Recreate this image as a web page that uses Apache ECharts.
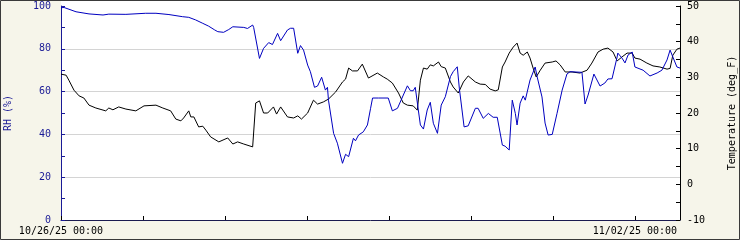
<!DOCTYPE html>
<html>
<head>
<meta charset="utf-8">
<script src="https://cdn.jsdelivr.net/npm/echarts@6/dist/echarts.min.js"></script>
<style>
html,body{margin:0;padding:0;background:#f6f5ea;}
#c{width:740px;height:240px;}
</style>
</head>
<body>
<div id="c"></div>
<script>
// Start of the time axis: 10/26/25 00:00; x values are hours since then
const startDate = [2025, 9, 26];
const axisEndHours = 181.2;
const dayTicks = 24;

// Relative humidity (%)
const rhHours = [0,0.9,4.4,8.2,12.3,14.0,19.0,24.8,27.8,31.6,35.6,37.4,39.4,41.5,43.2,45.0,45.9,47.6,49.1,50.3,53.5,54.6,56.1,56.4,58.1,59.3,60.8,61.9,63.4,64.3,66.3,67.2,68.1,69.3,70.1,71.0,72.2,73.0,74.2,75.1,76.3,77.4,78.0,78.3,79.8,80.9,82.4,83.3,84.2,85.6,86.2,87.1,88.5,89.7,90.6,91.2,92.9,95.8,97.0,98.5,101.4,102.3,103.1,103.7,104.6,105.2,106.1,107.2,108.1,109.0,110.2,111.3,112.5,114.0,114.8,116.0,116.6,118.0,119.2,121.3,122.1,123.6,125.1,126.5,127.7,129.2,130.0,131.2,132.1,133.0,133.5,134.4,135.3,135.9,137.3,138.8,139.4,140.8,141.7,142.6,143.8,145.2,146.7,148.1,149.0,152.5,153.4,154.3,156.0,157.8,159.2,160.1,161.3,162.8,163.0,164.2,165.1,166.0,167.2,168.0,170.4,172.4,174.5,175.9,177.4,178.3,179.1,180.3,181.2];
const rhValues = [99.2,99.3,97.3,96.3,95.8,96.2,96.1,96.6,96.6,96.0,95.0,94.7,93.5,91.9,90.6,88.8,88.0,87.7,89.0,90.3,90.0,89.5,91.1,90.0,75.5,80.2,82.9,82.0,87.2,83.8,88.8,89.6,89.6,77.9,81.5,79.4,72.4,69.3,62.0,62.6,66.7,60.7,62.0,56.0,40.5,35.9,26.5,30.7,29.6,38.2,37.0,39.7,41.2,44.4,52.0,57.0,57.0,57.0,51.0,52.2,62.7,60.4,60.4,62.0,51.4,44.4,42.5,51.4,55.0,45.2,40.5,53.7,57.6,67.0,69.3,71.6,61.6,43.5,44.0,52.2,52.2,47.5,49.8,48.0,48.0,35.0,34.5,32.7,56.0,49.8,44.4,54.6,58.0,56.0,65.4,71.5,66.8,57.5,45.3,39.7,40.0,49.8,60.7,68.2,69.3,69.0,54.2,58.4,68.2,62.6,64.0,65.9,66.0,76.2,78.0,75.7,73.4,77.1,78.5,71.5,70.0,67.3,68.7,70.0,74.8,79.4,76.2,71.5,71.0];

// Temperature (deg F)
const tempHours = [0,1.5,2.3,3.8,5.3,6.7,8.2,10.2,13.1,14.0,15.2,16.9,19.0,21.9,24.3,27.8,29.8,32.1,33.6,35.1,35.9,37.4,38.0,38.9,40.3,41.5,42.4,43.8,46.2,48.8,50.3,51.7,53.5,56.1,57.0,58.1,59.3,60.5,62.2,63.1,64.3,66.3,68.1,69.3,70.4,72.2,73.9,75.1,76.8,78.3,80.4,82.4,83.3,84.2,85.3,86.8,88.2,90.0,92.6,94.4,95.5,97.0,98.8,100.2,101.4,103.1,104.3,105.2,106.1,107.2,108.1,109.0,110.5,111.3,112.5,114.0,114.8,116.3,117.8,119.2,121.3,122.7,124.2,125.6,127.1,128.0,129.2,130.0,131.2,132.4,133.5,134.4,135.3,136.5,137.3,138.2,139.1,140.3,141.7,143.8,144.9,146.1,147.6,149.6,151.9,154.0,155.4,157.2,158.7,160.1,161.6,162.8,164.2,165.7,167.2,168.0,169.5,171.5,173.3,175.3,177.4,178.3,179.1,180.3,181.2];
const tempValues = [30.9,30.6,29.2,26.4,24.8,24.2,22.2,21.4,20.6,21.4,20.9,21.7,21.1,20.6,22.0,22.2,21.4,20.6,18.3,17.8,18.6,20.6,18.9,18.9,16.1,16.3,15.2,13.3,11.9,13.0,11.3,11.9,11.3,10.5,22.8,23.4,20.0,20.0,21.7,19.7,21.7,18.9,18.6,19.2,18.3,20.0,23.6,22.5,23.1,23.9,25.9,28.7,29.5,32.6,31.8,31.8,33.7,29.8,31.2,30.1,29.5,28.4,25.6,22.8,22.2,22.0,20.8,29.2,32.6,32.3,33.5,33.2,34.3,33.0,32.6,28.7,27.3,25.6,28.7,30.4,28.7,28.1,28.0,26.7,26.2,26.5,32.9,34.3,36.8,38.5,39.6,36.8,36.2,37.1,35.4,32.6,30.1,32.0,34.0,34.3,34.6,33.5,31.5,31.5,31.2,32.0,34.0,37.1,37.9,38.2,37.1,34.6,35.7,36.8,36.8,35.4,35.1,34.0,33.2,32.9,32.3,32.5,36.2,37.9,38.2];

const rhLabels = {name: 'RH (%)', min: 0, max: 100, step: 20};
const tempLabels = {name: 'Temperature (deg_F)', min: -10, max: 50, step: 10};

const FONT = 'DejaVu Sans Mono';
const NAVY = '#1a1a96';

function pad(n){return (n<10?'0':'')+n;}
function fmtTime(h){
  if (Math.abs(h % 168) > 1e-6) return '';
  const d = new Date(startDate[0], startDate[1], startDate[2] + h/24);
  return pad(d.getMonth()+1)+'/'+pad(d.getDate())+'/'+pad(d.getFullYear()%100)+' '+pad(d.getHours())+':'+pad(d.getMinutes());
}

const rhData = rhHours.map((h,i)=>[h, rhValues[i]]);
const tempData = tempHours.map((h,i)=>[h, tempValues[i]]);

const chart = echarts.init(document.getElementById('c'), null, {renderer:'canvas'});
chart.setOption({
  animation: false,
  backgroundColor: '#f6f5ea',
  graphic: [
    {type:'rect', z:-10, silent:true, shape:{x:61, y:1, width:619, height:219}, style:{fill:'#ffffff'}},
    {type:'rect', z:100, silent:true, shape:{x:0.5, y:0.5, width:739, height:239}, style:{fill:'none', stroke:'#3a3a3a', lineWidth:1}}
  ],
  grid: {left: 61, right: 60, top: 6, bottom: 20, containLabel: false, outerBoundsMode: 'none'},
  xAxis: {
    type: 'value', min: 0, max: axisEndHours, interval: dayTicks,
    axisLine: {show: true, onZero: false, lineStyle: {color: '#1a1a50', width: 1}},
    axisTick: {show: true, inside: true, length: 4, lineStyle: {color: '#000'}},
    axisLabel: {show: true, margin: 6, color: '#000', fontFamily: FONT, fontSize: 10, formatter: fmtTime, showMaxLabel: false},
    splitLine: {show: false}
  },
  yAxis: [
    {
      type: 'value', position: 'left', min: rhLabels.min, max: rhLabels.max, interval: rhLabels.step,
      name: rhLabels.name, nameLocation: 'middle', nameGap: 48, nameRotate: 90,
      nameTextStyle: {color: NAVY, fontFamily: FONT, fontSize: 10},
      axisLine: {show: true, lineStyle: {color: NAVY, width: 1}},
      axisTick: {show: true, inside: true, length: 4, lineStyle: {color: NAVY}},
      minorTick: {show: true, splitNumber: 2, length: 4, lineStyle: {color: NAVY}},
      axisLabel: {color: NAVY, margin: 10, fontFamily: FONT, fontSize: 10},
      splitLine: {show: true, showMaxLine: false, showMinLine: false, lineStyle: {color: '#d4d4d4', width: 1}}
    },
    {
      type: 'value', position: 'right', min: tempLabels.min, max: tempLabels.max, interval: tempLabels.step,
      name: tempLabels.name, nameLocation: 'middle', nameGap: 47, nameRotate: 90,
      nameTextStyle: {color: '#000', fontFamily: FONT, fontSize: 10},
      axisLine: {show: true, lineStyle: {color: '#000', width: 1}},
      axisTick: {show: true, inside: true, length: 4, lineStyle: {color: '#000'}},
      minorTick: {show: true, splitNumber: 2, length: 4, lineStyle: {color: '#000'}},
      axisLabel: {color: '#000', margin: 7, fontFamily: FONT, fontSize: 10},
      splitLine: {show: false}
    }
  ],
  series: [
    {type: 'line', name: 'Temperature', yAxisIndex: 1, data: tempData, showSymbol: false, symbol: 'none',
     lineStyle: {color: '#000', width: 1}, z: 2},
    {type: 'line', name: 'RH', yAxisIndex: 0, data: rhData, showSymbol: false, symbol: 'none',
     lineStyle: {color: '#0000c0', width: 1}, z: 3}
  ]
});
</script>
</body>
</html>
